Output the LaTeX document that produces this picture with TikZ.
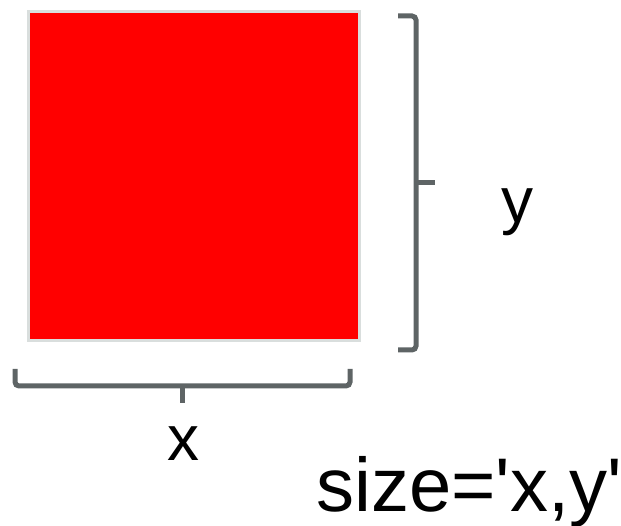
\documentclass[tikz,border=0pt]{standalone}
\usepackage{fontspec}
\setmainfont{Liberation Sans}
\usetikzlibrary{positioning, calc}
\definecolor{sqfill}{HTML}{FF0000}
\definecolor{sqedge}{HTML}{D9DEDD}
\definecolor{brace}{HTML}{5E6465}
\tikzset{
  sq/.style={fill=sqfill, draw=sqedge, line width=3pt, minimum width=331pt, minimum height=329pt, inner sep=0pt},
  br/.style={draw=brace, line width=5pt, rounded corners=4pt},
  tk/.style={draw=brace, line width=5pt},
  lbl/.style={inner sep=0pt, font=\fontsize{64}{70}\selectfont},
  big/.style={inner sep=0pt, font=\fontsize{76}{82}\selectfont},
}
\begin{document}
\begin{tikzpicture}[x=1pt, y=-1pt]
\useasboundingbox (0,0) rectangle (621,526);
\node[sq] (sq) at (194,176) {};
% brace on the right
\coordinate (rt) at ($(sq.north east)+(55,6)$);
\coordinate (rb) at ($(sq.south east)+(55,8)$);
\coordinate (rm) at ($(rt)!0.5!(rb)+(19,0)$);
\draw[br] ($(rt)+(-18,0)$) -- (rt) -- (rb) -- ($(rb)+(-18,0)$);
\draw[tk] ($(rt)!0.5!(rb)$) -- (rm);
% brace below
\coordinate (bl) at ($(sq.south west)+(-12,44)$);
\coordinate (bb) at ($(sq.south east)+(-11,44)$);
\coordinate (bm) at (182,403);
\draw[br] ($(bl)+(0,-17)$) -- (bl) -- (bb) -- ($(bb)+(0,-17)$);
\draw[tk] (182,385) -- (bm);
% labels
\node[lbl, anchor=base] (ly) at (517,223) {y};
\node[lbl, anchor=base] (lx) at (183,460) {x};
\node[big, anchor=base west] (ls) at (316,511) {size=\textquotesingle x,y\textquotesingle};
\end{tikzpicture}
\end{document}
